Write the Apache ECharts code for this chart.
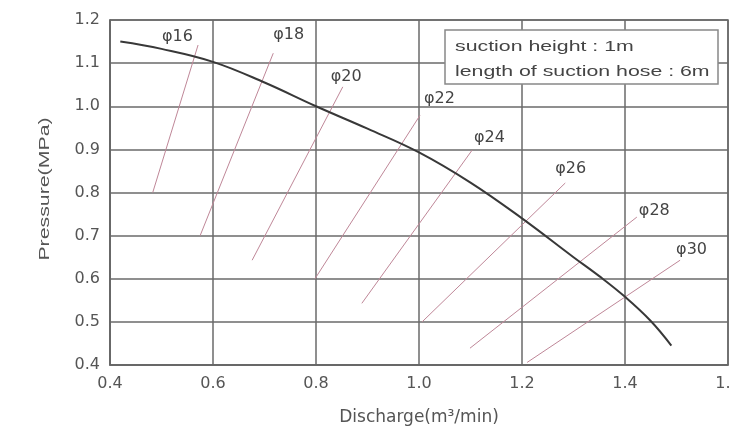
<!DOCTYPE html>
<html>
<head>
<meta charset="utf-8">
<script src="https://cdn.jsdelivr.net/npm/echarts@6/dist/echarts.min.js"></script>
<style>
  html, body { margin: 0; padding: 0; background: #fff; }
  #main { width: 730px; height: 432px; }
</style>
</head>
<body>
<div id="main"></div>
<script>
// pump curve (discharge m3/min -> pressure MPa)
var curveQ = [0.42, 0.5, 0.6, 0.7, 0.8, 0.9, 1.0, 1.1, 1.2, 1.3, 1.35, 1.4, 1.45, 1.49];
var curveP = [1.15, 1.133, 1.103, 1.055, 1.0, 0.948, 0.893, 0.823, 0.740, 0.650, 0.606, 0.558, 0.502, 0.445];

// hose diameter lines
var pipeNames = ['φ16', 'φ18', 'φ20', 'φ22', 'φ24', 'φ26', 'φ28', 'φ30'];
var pipeStartQ = [0.483, 0.575, 0.676, 0.798, 0.889, 1.006, 1.099, 1.210];
var pipeStartP = [0.80, 0.70, 0.643, 0.60, 0.543, 0.50, 0.439, 0.406];
var pipeEndQ = [0.571, 0.717, 0.852, 1.002, 1.103, 1.284, 1.423, 1.507];
var pipeEndP = [1.142, 1.123, 1.045, 0.979, 0.898, 0.822, 0.743, 0.643];

var xTicks = ['0.4', '0.6', '0.8', '1.0', '1.2', '1.4', '1.6'];
var yTicks = ['0.4', '0.5', '0.6', '0.7', '0.8', '0.9', '1.0', '1.1', '1.2'];

var noteLines = ['suction height : 1m', 'length of suction hose : 6m'];

var myChart = echarts.init(document.getElementById('main'));

var curveData = [];
for (var i = 0; i < curveQ.length; i++) {
  curveData.push([curveQ[i], curveP[i]]);
}

// label offsets for the diameter names (from line top end)
var labelOffset = [[-44, -8], [-8, -18], [-20, -10], [-4, -16], [-6, -12], [-18, -14], [-6, -6], [-12, -10]];

var series = [];
for (var j = 0; j < pipeNames.length; j++) {
  series.push({
    name: pipeNames[j],
    type: 'line',
    symbol: 'none',
    silent: true,
    lineStyle: { color: '#bf8798', width: 1 },
    endLabel: {
      show: true,
      offset: labelOffset[j],
      formatter: pipeNames[j],
      color: '#444',
      fontSize: 16,
      fontFamily: 'DejaVu Sans'
    },
    data: [
      [pipeStartQ[j], pipeStartP[j]],
      [pipeEndQ[j], pipeEndP[j]]
    ]
  });
}
series.push({
  name: 'pump',
  type: 'line',
  symbol: 'none',
  smooth: 0.4,
  silent: true,
  lineStyle: { color: '#383838', width: 2 },
  data: curveData,
  z: 5
});

var option = {
  backgroundColor: '#fff',
  animation: false,
  grid: {
    left: 110,
    right: 2,
    top: 20,
    bottom: 67,
    outerBoundsMode: 'none',
    show: true,
    borderColor: '#666',
    borderWidth: 1.5
  },
  xAxis: {
    type: 'value',
    min: 0.4,
    max: 1.6,
    interval: 0.2,
    name: 'Discharge(m³/min)',
    nameLocation: 'middle',
    nameGap: 44,
    nameTextStyle: { color: '#555', fontSize: 17, fontFamily: 'DejaVu Sans' },
    axisLine: { show: true, lineStyle: { color: '#666', width: 1.5 } },
    axisTick: { show: false },
    splitLine: { show: true, lineStyle: { color: '#6a6a6a', width: 1.5 } },
    axisLabel: {
      color: '#555',
      fontSize: 16,
      fontFamily: 'DejaVu Sans',
      margin: 11,
      formatter: function (v) {
        var idx = Math.round((v - 0.4) / 0.2);
        return xTicks[idx];
      }
    }
  },
  yAxis: {
    type: 'value',
    min: 0.4,
    max: 1.2,
    interval: 0.1,
    axisLine: { show: true, lineStyle: { color: '#666', width: 1.5 } },
    axisTick: { show: false },
    splitLine: { show: true, lineStyle: { color: '#6a6a6a', width: 1.5 } },
    axisLabel: {
      color: '#555',
      fontSize: 16,
      fontFamily: 'DejaVu Sans',
      margin: 10,
      formatter: function (v) {
        var idx = Math.round((v - 0.4) / 0.1);
        return yTicks[idx];
      }
    }
  },
  graphic: [
    {
      // y axis title, the original lettering is wide
      type: 'text',
      x: 45,
      y: 189,
      rotation: Math.PI / 2,
      scaleX: 1.42,
      style: {
        text: 'Pressure(MPa)',
        fill: '#555',
        font: '15px "Liberation Sans"',
        align: 'center',
        verticalAlign: 'middle'
      }
    },
    {
      type: 'rect',
      z: 100,
      shape: { x: 445, y: 30, width: 273, height: 54 },
      style: { fill: '#fff', stroke: '#888', lineWidth: 1.5 }
    },
    {
      type: 'text',
      z: 101,
      x: 455,
      y: 34,
      scaleX: 1.42,
      style: {
        text: noteLines.join('\n'),
        fill: '#444',
        font: '15px "Liberation Sans"',
        lineHeight: 25
      }
    }
  ],
  series: series
};

myChart.clear();
myChart.setOption(option);
</script>
</body>
</html>
